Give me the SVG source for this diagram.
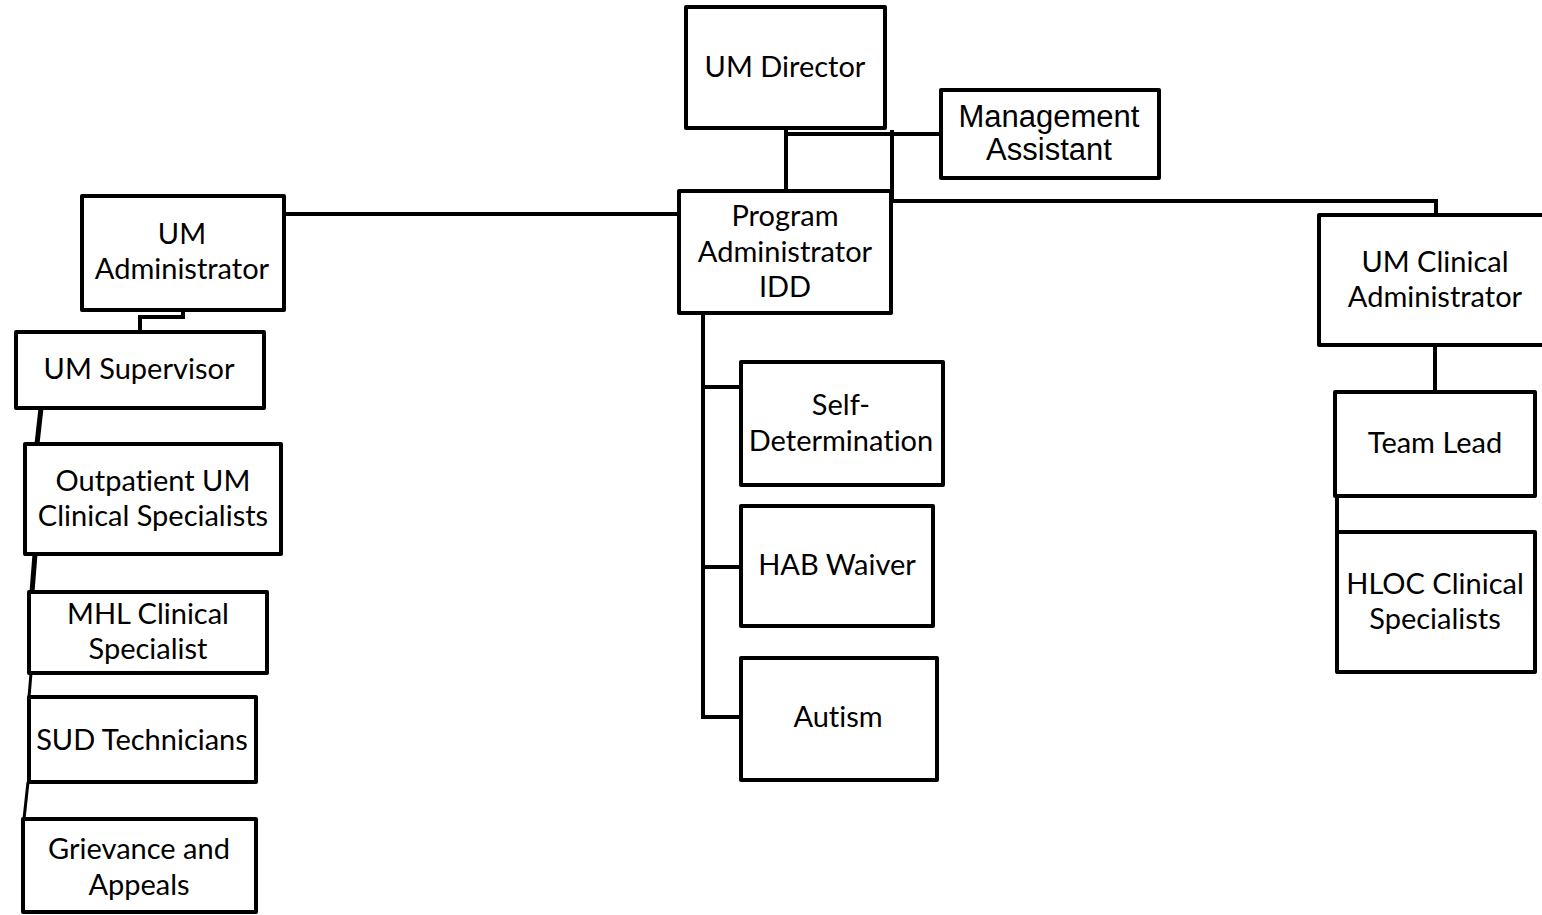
<svg xmlns="http://www.w3.org/2000/svg" width="1542" height="915" viewBox="0 0 1542 915">
<style>
.box{fill:#fff;stroke:#000;stroke-width:4;stroke-linejoin:round}
.c{fill:none;stroke:#000;stroke-width:4;stroke-linejoin:miter}
.t{font-family:Lato,"Open Sans","DejaVu Sans",sans-serif;font-size:29px;fill:#000;text-anchor:middle;font-variant-ligatures:none}
.a{font-family:"Liberation Sans",Arial,sans-serif;font-size:31px;fill:#000;text-anchor:middle}
</style>
<rect width="1542" height="915" fill="#fff"/>
<g id="connectors">
<path class="c" d="M786,130 V134 H939"/>
<path class="c" d="M786,134 V191"/>
<path class="c" d="M892,130 V201 H1436 V215"/>
<path class="c" d="M285,214 H679"/>
<path class="c" d="M183,311 V317 H140 V332"/>
<path class="c" d="M703,313 V717 H741"/>
<path class="c" d="M703,387 H741"/>
<path class="c" d="M703,567 H741"/>
<path class="c" d="M1435,345 V392"/>
<path class="c" d="M1337,496 V532"/>
<path class="c" style="stroke-width:5" d="M41,408 L37,444"/>
<path class="c" style="stroke-width:5" d="M35,554 L32,592"/>
<path class="c" style="stroke-width:3" d="M31,673 L29,697"/>
<path class="c" style="stroke-width:3" d="M28,782 L24,819"/>
</g>
<g id="um-director"><rect class="box" x="686" y="7" width="199" height="121"/><text class="t" x="785" y="77">UM Director</text></g>
<g id="management-assistant"><rect class="box" x="941" y="90" width="218" height="88"/><text class="a" x="1049" y="127">Management</text><text class="a" x="1049" y="160">Assistant</text></g>
<g id="program-administrator"><rect class="box" x="679" y="191" width="212" height="122"/><text class="t" x="785" y="226">Program</text><text class="t" x="785" y="262">Administrator</text><text class="t" x="785" y="297">IDD</text></g>
<g id="um-administrator"><rect class="box" x="82" y="196" width="202" height="114"/><text class="t" x="182" y="244">UM</text><text class="t" x="182" y="279">Administrator</text></g>
<g id="um-supervisor"><rect class="box" x="16" y="332" width="248" height="76"/><text class="t" x="139" y="379">UM Supervisor</text></g>
<g id="outpatient"><rect class="box" x="25" y="444" width="256" height="110"/><text class="t" x="153" y="491">Outpatient UM</text><text class="t" x="153" y="526">Clinical Specialists</text></g>
<g id="mhl"><rect class="box" x="29" y="592" width="238" height="81"/><text class="t" x="148" y="624">MHL Clinical</text><text class="t" x="148" y="659">Specialist</text></g>
<g id="sud"><rect class="box" x="29" y="697" width="227" height="85"/><text class="t" x="142" y="750">SUD Technicians</text></g>
<g id="grievance"><rect class="box" x="23" y="819" width="233" height="93"/><text class="t" x="139" y="859">Grievance and</text><text class="t" x="139" y="895">Appeals</text></g>
<g id="self-determination"><rect class="box" x="741" y="362" width="202" height="123"/><text class="t" x="841" y="415">Self-</text><text class="t" x="841" y="451">Determination</text></g>
<g id="hab-waiver"><rect class="box" x="741" y="506" width="192" height="120"/><text class="t" x="837" y="575">HAB Waiver</text></g>
<g id="autism"><rect class="box" x="741" y="658" width="196" height="122"/><text class="t" x="838" y="727">Autism</text></g>
<g id="um-clinical-administrator"><rect class="box" x="1319" y="215" width="230" height="130"/><text class="t" x="1435" y="272">UM Clinical</text><text class="t" x="1435" y="307">Administrator</text></g>
<g id="team-lead"><rect class="box" x="1335" y="392" width="200" height="104"/><text class="t" x="1435" y="453">Team Lead</text></g>
<g id="hloc"><rect class="box" x="1337" y="532" width="198" height="140"/><text class="t" x="1435" y="594">HLOC Clinical</text><text class="t" x="1435" y="629">Specialists</text></g>
</svg>
